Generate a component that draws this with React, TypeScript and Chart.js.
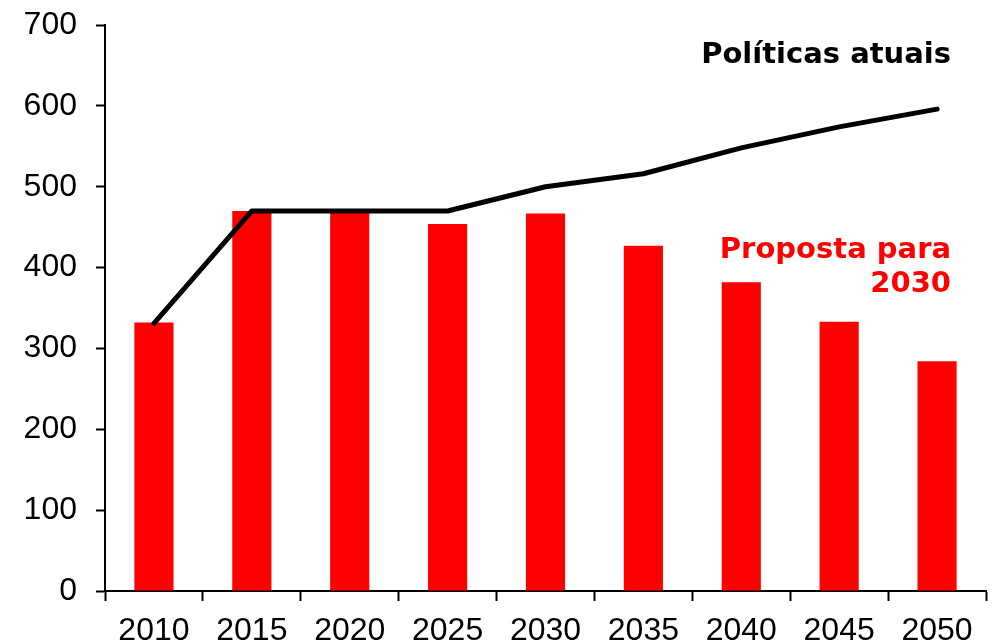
import React, { useEffect, useRef } from "react";
import { Chart, registerables } from "chart.js";

Chart.register(...registerables);

const years = ["2010", "2015", "2020", "2025", "2030", "2035", "2040", "2045", "2050"];
const proposalValues = [332, 470, 470, 454, 467, 427, 382, 333, 284];
const currentPolicyValues = [331, 470, 470, 470, 500, 516, 548, 574, 596];
const yTicks = [0, 100, 200, 300, 400, 500, 600, 700];
const labelCurrent = "Políticas atuais";
const labelProposal = ["Proposta para", "2030"];

const annotationPlugin = {
  id: "annotations",
  afterDatasetsDraw(chart: any) {
    const ctx = chart.ctx;
    const area = chart.chartArea;
    const x = area.right - 35;
    ctx.save();
    ctx.textAlign = "right";
    ctx.textBaseline = "alphabetic";
    ctx.font = "bold 29px 'DejaVu Sans', Verdana, sans-serif";
    ctx.fillStyle = "#000000";
    ctx.fillText(labelCurrent, x, area.top + 38);
    ctx.fillStyle = "#FF0000";
    ctx.fillText(labelProposal[0], x, area.top + 233);
    ctx.fillText(labelProposal[1], x, area.top + 267);
    ctx.restore();
  },
};

export default function App() {
  const canvasRef = useRef<HTMLCanvasElement>(null);

  useEffect(() => {
    if (!canvasRef.current) return;
    const tickFont = { family: "'Liberation Sans', Arial, sans-serif", size: 32 };
    const chart = new Chart(canvasRef.current, {
      type: "bar",
      data: {
        labels: years,
        datasets: [
          {
            type: "line",
            label: labelCurrent,
            data: currentPolicyValues,
            borderColor: "#000000",
            borderWidth: 5,
            pointRadius: 0,
            tension: 0,
            fill: false,
            borderCapStyle: "round",
            borderJoinStyle: "round",
            order: 0,
          } as any,
          {
            type: "bar",
            label: labelProposal.join(" "),
            data: proposalValues,
            backgroundColor: "#FF0000",
            borderWidth: 0,
            categoryPercentage: 1,
            barPercentage: 0.4,
            order: 1,
          },
        ],
      },
      options: {
        responsive: false,
        animation: false,
        layout: { padding: { top: 25, right: 12, left: 0, bottom: 0 } },
        plugins: {
          legend: { display: false },
          tooltip: { enabled: false },
        },
        scales: {
          x: {
            offset: true,
            grid: {
              offset: true,
              drawOnChartArea: false,
              drawTicks: true,
              tickLength: 10,
              tickColor: "#000000",
              tickWidth: 2,
            },
            border: { display: true, color: "#000000", width: 2 },
            ticks: { color: "#000000", font: tickFont, padding: 11, maxRotation: 0 },
            afterFit: (scale: any) => {
              scale.height = 52;
              scale.paddingLeft = 0;
              scale.paddingRight = 0;
            },
          },
          y: {
            min: 0,
            max: 700,
            afterBuildTicks: (scale: any) => {
              scale.ticks = yTicks.map((v) => ({ value: v }));
            },
            grid: {
              drawOnChartArea: false,
              drawTicks: true,
              tickLength: 9,
              tickColor: "#000000",
              tickWidth: 2,
            },
            border: { display: true, color: "#000000", width: 2 },
            ticks: { color: "#000000", font: tickFont, padding: 19 },
            afterFit: (scale: any) => {
              scale.width = 105;
              scale.paddingTop = 0;
              scale.paddingBottom = 0;
            },
          },
        },
      },
      plugins: [annotationPlugin],
    });
    return () => chart.destroy();
  }, []);

  return (
    <div style={{ position: "absolute", left: 0, top: 0, width: 998, height: 643, background: "#ffffff" }}>
      <canvas ref={canvasRef} width={998} height={643} style={{ display: "block" }} />
    </div>
  );
}
